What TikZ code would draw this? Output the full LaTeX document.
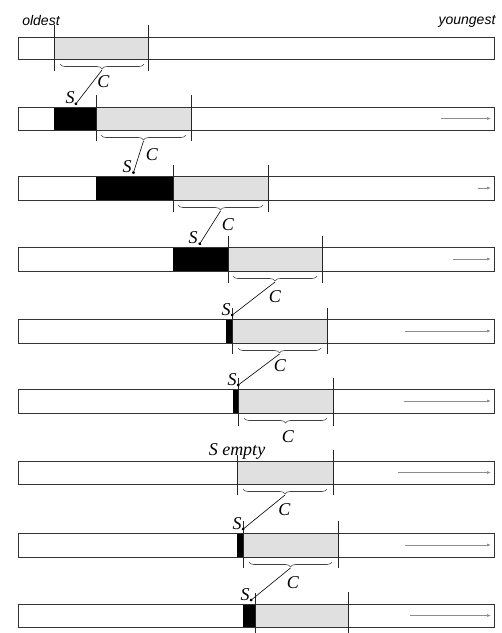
\documentclass[tikz,border=0pt]{standalone}
\usepackage{fontspec}
\setmainfont{Liberation Serif}
\newfontfamily\agefont{Liberation Sans}
\usetikzlibrary{decorations.pathreplacing, arrows.meta, calc, positioning}
\definecolor{heapgray}{gray}{0.88}
\tikzset{
  heapbar/.style={draw=black!80, line width=0.9pt},
  survivor/.style={fill=heapgray},
  stackfill/.style={fill=black},
  bound/.style={draw=black!85, line width=0.7pt},
  copybrace/.style={decorate, decoration={brace, mirror, amplitude=5pt}, draw=black!75, line width=0.6pt},
  promote/.style={-{Circle[length=3pt]}, line width=0.6pt},
  newer/.style={-{Latex[length=4pt,width=3pt]}, draw=black!45, line width=0.6pt},
  lab/.style={font=\fontsize{18}{20}\selectfont\itshape, inner sep=0pt},
  agelab/.style={font=\agefont\fontsize{14}{16}\selectfont\itshape, inner sep=0pt},
}

\begin{document}
\begin{tikzpicture}[x=1pt, y=-1pt]
  \useasboundingbox (0,0) rectangle (502,633);

  \node[agelab] (old) at (41,20) {oldest};
  \node[agelab] (young) at (467,21) {youngest};

  % row 1
  \fill[survivor] (54,37) rectangle (148,59);
  \draw[heapbar] (18,37) rectangle (494,59);
  \draw[bound] (54,25) -- (54,71) (148,25) -- (148,71);
  \draw[copybrace] (60,64) -- (144,64);
  \coordinate (c1) at (102,70);

  % row 2
  \fill[stackfill] (54,107) rectangle (96,130);
  \fill[survivor] (96,107) rectangle (191,130);
  \draw[heapbar] (18,107) rectangle (494,130);
  \draw[bound] (96,95) -- (96,141) (191,95) -- (191,141);
  \draw[copybrace] (101,135) -- (186,135);
  \coordinate (s2) at (75,105);
  \coordinate (c2) at (143.5,141);
  \coordinate (a2) at (441,118.5);
  \coordinate (e2) at (491,118.5);

  % row 3
  \fill[stackfill] (96,176) rectangle (173,200);
  \fill[survivor] (173,176) rectangle (268,200);
  \draw[heapbar] (18,176) rectangle (494,200);
  \draw[bound] (173,165) -- (173,212) (268,165) -- (268,212);
  \draw[copybrace] (178,205) -- (263,205);
  \coordinate (s3) at (133,174);
  \coordinate (c3) at (220.5,211);
  \coordinate (a3) at (478,188);
  \coordinate (e3) at (491,188);

  % row 4
  \fill[stackfill] (173,247) rectangle (228,271);
  \fill[survivor] (228,247) rectangle (322,271);
  \draw[heapbar] (18,247) rectangle (494,271);
  \draw[bound] (228,236) -- (228,283) (322,236) -- (322,283);
  \draw[copybrace] (233,276) -- (317,276);
  \coordinate (s4) at (199,245);
  \coordinate (c4) at (275,282);
  \coordinate (a4) at (453,259);
  \coordinate (e4) at (491,259);

  % row 5
  \fill[stackfill] (226,319) rectangle (232,343);
  \fill[survivor] (232,319) rectangle (327,343);
  \draw[heapbar] (18,319) rectangle (494,343);
  \draw[bound] (232,308) -- (232,354) (327,308) -- (327,354);
  \draw[copybrace] (238,348) -- (321,348);
  \coordinate (s5) at (231,316);
  \coordinate (c5) at (279.5,354);
  \coordinate (a5) at (405,331);
  \coordinate (e5) at (491,331);

  % row 6
  \fill[stackfill] (233,389) rectangle (238,413);
  \fill[survivor] (238,389) rectangle (333,413);
  \draw[heapbar] (18,389) rectangle (494,413);
  \draw[bound] (238,378) -- (238,426) (333,378) -- (333,426);
  \draw[copybrace] (244,418) -- (327,418);
  \coordinate (s6) at (237,386);
  \coordinate (c6) at (285.5,424);
  \coordinate (a6) at (404,401);
  \coordinate (e6) at (491,401);
  \node[lab] (c6lab) at (288,437) {C};

  % row 7
  \fill[survivor] (237,461) rectangle (333,484);
  \draw[heapbar] (18,461) rectangle (494,484);
  \draw[bound] (237,455) -- (237,495) (333,450) -- (333,495);
  \draw[copybrace] (243,489) -- (327,489);
  \node[lab, anchor=base] (empty) at (237,455) {S empty};
  \coordinate (c7) at (285,495);
  \coordinate (a7) at (398,472.5);
  \coordinate (e7) at (491,472.5);

  % row 8
  \fill[stackfill] (237,533) rectangle (243,557);
  \fill[survivor] (243,533) rectangle (338,557);
  \draw[heapbar] (18,533) rectangle (494,557);
  \draw[bound] (243,521) -- (243,568) (338,521) -- (338,568);
  \draw[copybrace] (249,562) -- (332,562);
  \coordinate (s8) at (242,530);
  \coordinate (c8) at (290.5,568);
  \coordinate (a8) at (405,545);
  \coordinate (e8) at (491,545);

  % row 9
  \fill[stackfill] (243,604) rectangle (255,627);
  \fill[survivor] (255,604) rectangle (348,627);
  \draw[heapbar] (18,604) rectangle (494,627);
  \draw[bound] (255,593) -- (255,633) (348,592) -- (348,633);
  \coordinate (s9) at (250,601);
  \coordinate (a9) at (410,615.5);
  \coordinate (e9) at (491,615.5);

  % copies into the stack
  \draw[promote] (c1) -- node[lab, pos=0, below right=5pt and -5pt] {C} node[lab, pos=1, above left=1pt and 0pt] {S} (s2);
  \draw[promote] (c2) -- node[lab, pos=0, below right=7pt and 2pt] {C} node[lab, pos=1, above left=1pt and 1pt] {S} (s3);
  \draw[promote] (c3) -- node[lab, pos=0, below right=7pt and 1pt] {C} node[lab, pos=1, above left=1pt and 1pt] {S} (s4);
  \draw[promote] (c4) -- node[lab, pos=0, below=8pt] {C} node[lab, pos=1, above left=0pt and 0pt] {S} (s5);
  \draw[promote] (c5) -- node[lab, pos=0, below right=5pt and -6pt] {C} node[lab, pos=1, above left=0pt and 0pt] {S} (s6);
  \draw[promote] (c7) -- node[lab, pos=0, below right=8pt and -7pt] {C} node[lab, pos=1, above left=0pt and 0pt] {S} (s8);
  \draw[promote] (c8) -- node[lab, pos=0, below right=8pt and -4pt] {C} node[lab, pos=1, above left=0pt and 0pt] {S} (s9);

  % allocation direction
  \foreach \r in {2,...,9}
    \draw[newer] (a\r) -- (e\r);
\end{tikzpicture}
\end{document}
